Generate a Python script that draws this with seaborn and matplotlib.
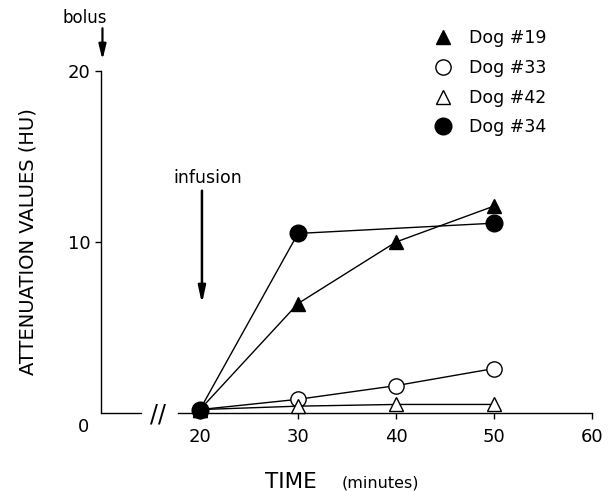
import numpy as np
import pandas as pd
import matplotlib
matplotlib.use("Agg")
import matplotlib.pyplot as plt
import seaborn as sns
from matplotlib.lines import Line2D

# values (attenuation in HU vs time in minutes)
time = [20, 30, 40, 50]
time34 = [20, 30, 50]          # dog 34 has no 40 min point
dog19 = [0.2, 6.4, 10.0, 12.1]
dog33 = [0.2, 0.8, 1.6, 2.6]
dog42 = [0.2, 0.4, 0.5, 0.5]
dog34 = [0.2, 10.5, 11.1]

x_ticks = [20, 30, 40, 50, 60]
y_ticks = [10, 20]

sns.set_style("ticks")
plt.rcParams["font.family"] = ["DejaVu Sans"]
plt.rcParams["text.color"] = "black"

W, H = 613, 492
fig = plt.figure(figsize=(W / 100, H / 100), dpi=100)
ax = fig.add_axes([101 / W, 1 - 413 / H, (592 - 101) / W, (413 - 71) / H])


def px(x, y):
    # image pixel (top-left origin) -> figure fraction
    return x / W, 1 - y / H


series = [
    ("Dog #19", time, dog19, "^", "black", 10),
    ("Dog #33", time, dog33, "o", "white", 11),
    ("Dog #42", time, dog42, "^", "white", 10),
    ("Dog #34", time34, dog34, "o", "black", 12),
]

handles = []
for name, t, v, mk, fc, ms in series:
    df = pd.DataFrame({"time": t, "hu": v})
    sns.lineplot(data=df, x="time", y="hu", ax=ax, color="black", lw=1.0,
                 marker=mk, markersize=ms, markerfacecolor=fc,
                 markeredgecolor="black", markeredgewidth=1.0,
                 clip_on=False, zorder=3)
    handles.append(Line2D([], [], ls="none", marker=mk, markersize=ms,
                          markerfacecolor=fc, markeredgecolor="black",
                          markeredgewidth=1.0, label=name))

ax.set_xlim(9.9, 60)
ax.set_ylim(0, 20)
ax.set_xlabel("")
ax.set_ylabel("")
ax.set_xticks(x_ticks)
ax.set_yticks(y_ticks)
ax.tick_params(axis="both", direction="out", length=4.5, width=1.0,
               labelsize=13, colors="black")
ax.tick_params(axis="x", pad=6)
ax.tick_params(axis="y", pad=3)

sns.despine(ax=ax)
for s in ["left", "bottom"]:
    ax.spines[s].set_linewidth(1.0)
    ax.spines[s].set_color("black")
ax.spines["bottom"].set_bounds(17.8, 60)
# short piece of x axis before the break
ax.plot([9.9, 14.0], [0, 0], color="black", lw=1.0, clip_on=False)
fig.text(*px(158, 415), "//", ha="center", va="center", fontsize=17)

# origin label
fig.text(*px(83, 427), "0", ha="center", va="center", fontsize=13)

# arrows
ax.annotate("", xy=(10.05, 20.65), xytext=(10.05, 22.5), xycoords="data",
            annotation_clip=False,
            arrowprops=dict(arrowstyle="-|>,head_width=0.22,head_length=0.9",
                            color="black", lw=1.6, shrinkA=0, shrinkB=0))
fig.text(*px(85, 18), "bolus", ha="center", va="center", fontsize=12)

ax.annotate("", xy=(20.2, 6.4), xytext=(20.2, 13.0), xycoords="data",
            annotation_clip=False,
            arrowprops=dict(arrowstyle="-|>,head_width=0.22,head_length=1.0",
                            color="black", lw=1.8, shrinkA=0, shrinkB=0))
fig.text(*px(208, 178), "infusion", ha="center", va="center", fontsize=12.5)

# axis titles
fig.text(*px(28, 242), "ATTENUATION VALUES (HU)", rotation=90,
         ha="center", va="center", fontsize=14)
fig.text(*px(265, 488), "TIME", ha="left", va="baseline", fontsize=15.5)
fig.text(*px(342, 488), "(minutes)", ha="left", va="baseline", fontsize=11.5)

leg = ax.legend(handles=handles, loc="upper left",
                bbox_to_anchor=px(434, 29), bbox_transform=fig.transFigure,
                frameon=False, fontsize=12.5, handlelength=1.0,
                handletextpad=1.0, labelspacing=0.68, borderpad=0,
                borderaxespad=0)

fig.savefig("out.png", dpi=100)
